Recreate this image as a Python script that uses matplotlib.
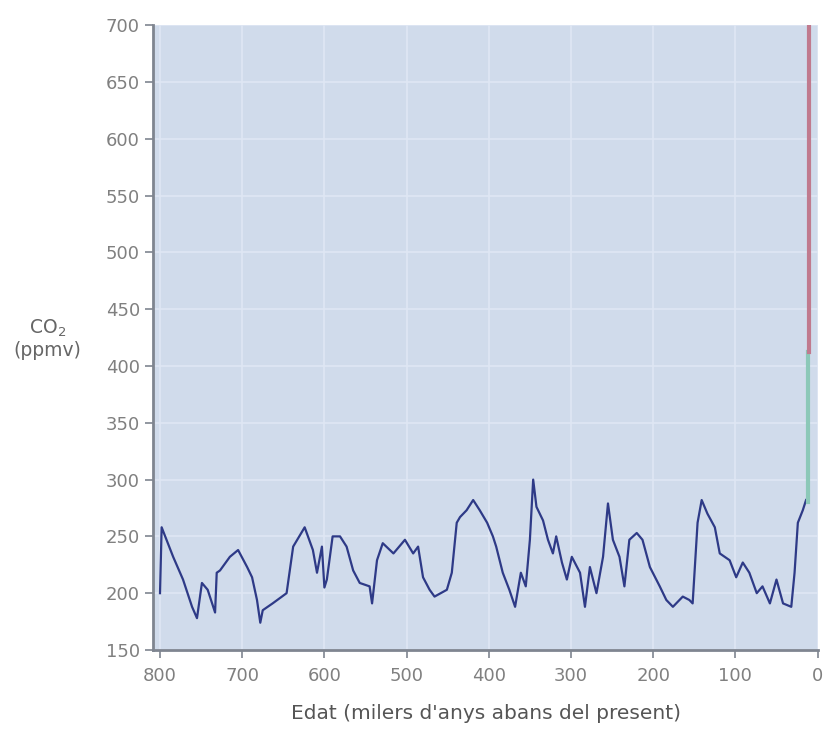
import matplotlib.pyplot as plt


# age (thousands of years before present) and CO2 (ppmv)
edat = [800, 798, 784, 772, 761, 755, 749, 742, 733, 731, 727, 715, 705, 694,
        688, 682, 678, 675, 663, 646, 638, 624, 614, 609, 603, 600, 597, 590,
        581, 573, 565, 557, 545, 542, 536, 529, 516, 502, 492, 486, 480, 472,
        466, 451, 445, 439, 435, 427, 419, 411, 402, 395, 391, 383, 375, 368,
        361, 355, 350, 346, 342, 334, 328, 322, 318, 311, 305, 299, 289, 283,
        277, 269, 261, 255, 249, 241, 235, 229, 220, 213, 204, 192, 184, 176,
        164, 156, 152, 146, 141, 134, 125, 119, 107, 99, 91, 83, 74, 67, 58,
        50, 42, 32, 28, 24, 18, 14]
co2 = [200, 258, 232, 212, 188, 178, 209, 203, 183, 218, 220, 232, 238, 223,
       214, 194, 174, 185, 191, 200, 241, 258, 238, 218, 241, 205, 212, 250,
       250, 241, 220, 209, 206, 191, 229, 244, 235, 247, 235, 241, 214, 203,
       197, 203, 218, 262, 267, 273, 282, 273, 262, 250, 241, 218, 203, 188,
       218, 206, 247, 300, 276, 264, 247, 235, 250, 227, 212, 232, 218, 188,
       223, 200, 232, 279, 247, 232, 206, 247, 253, 247, 223, 206, 194, 188,
       197, 194, 191, 262, 282, 270, 258, 235, 229, 214, 227, 218, 200, 206,
       191, 212, 191, 188, 218, 262, 273, 282]

# recent rise (green) and projection (red)
edat_actual = [12, 12]
co2_actual = [280, 412]
edat_proj = [10, 10]
co2_proj = [412, 700]

y_ticks = list(range(150, 701, 50))
x_ticks = [800, 700, 600, 500, 400, 300, 200, 100, 0]


def make_plot():
    fig = plt.figure(figsize=(8.24, 7.29), dpi=100)
    ax = fig.add_axes([0.1857, 0.1084, 0.807, 0.857])
    ax.set_facecolor('#d0dbeb')

    ax.plot(edat, co2, color='#2e3a87', linewidth=1.6, zorder=3)
    ax.plot(edat_actual, co2_actual, color='#8cc8b8', linewidth=3, zorder=4)
    ax.plot(edat_proj, co2_proj, color='#c07a8e', linewidth=3, zorder=4)

    ax.set_xlim(808.5, -0.5)
    ax.set_ylim(150, 700)
    ax.set_xticks(x_ticks)
    ax.set_yticks(y_ticks)
    ax.grid(True, color='#dfe7f4', linewidth=1.2, zorder=0)
    ax.set_axisbelow(True)

    for s in ['top', 'right']:
        ax.spines[s].set_visible(False)
    for s in ['left', 'bottom']:
        ax.spines[s].set_color('#7f8590')
        ax.spines[s].set_linewidth(2)
    ax.tick_params(colors='#7f8590', labelcolor='#808080', labelsize=13,
                   length=6, width=1.2, direction='out')
    ax.tick_params(axis='x', pad=6)

    ax.set_xlabel("Edat (milers d'anys abans del present)", fontsize=14.5,
                  color='#555555', labelpad=14)
    fig.text(0.058, 0.535, 'CO$_2$\n(ppmv)', fontsize=13.5, color='#666666',
             ha='center', va='center', linespacing=1.1)

    plt.savefig('out.png', dpi=100)


def main():
    make_plot()


if __name__ == '__main__':
    main()
